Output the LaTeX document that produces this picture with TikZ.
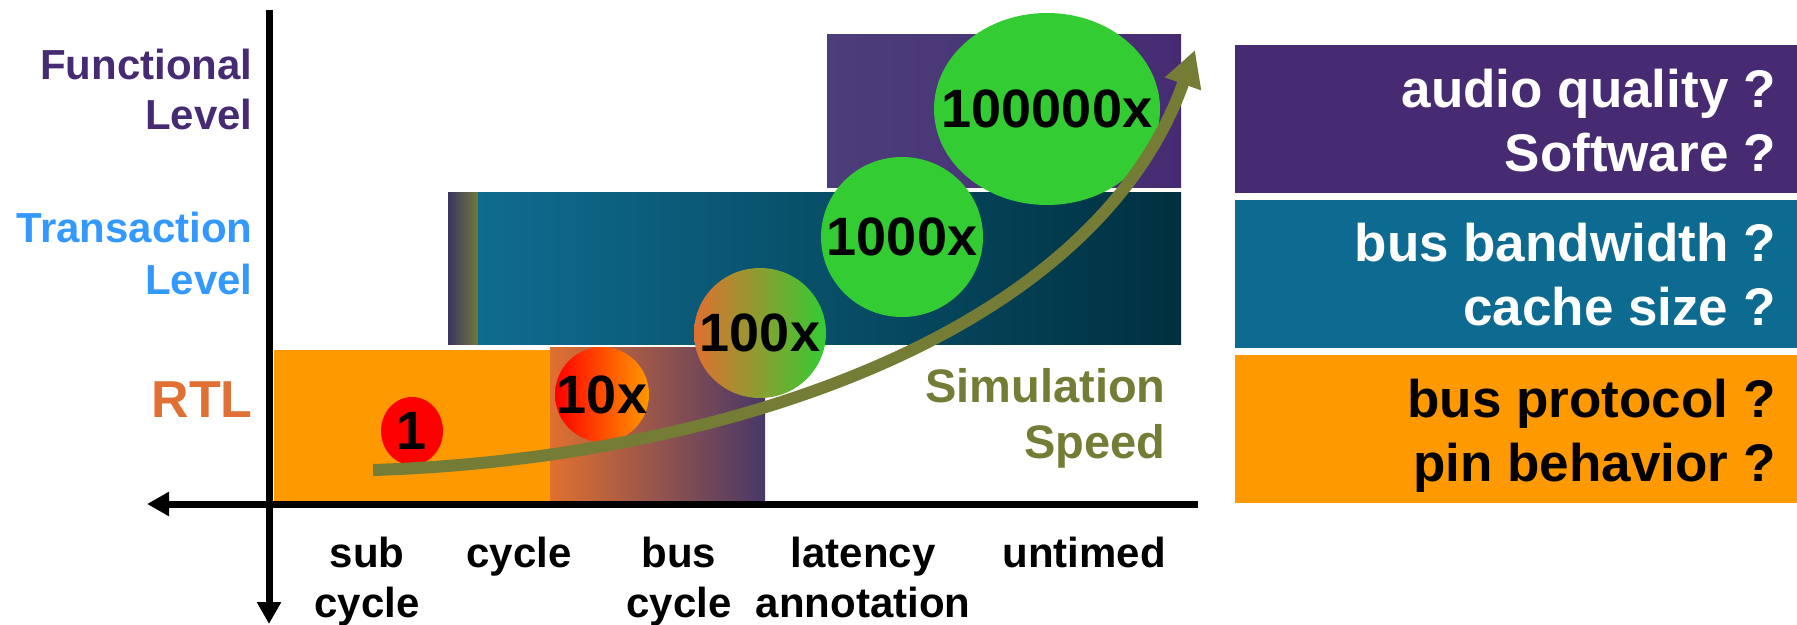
\documentclass[tikz,border=0pt]{standalone}
\usepackage{fontspec}
\setmainfont{Liberation Sans}
\usetikzlibrary{arrows.meta,shapes.geometric}
\definecolor{funcpurple}{RGB}{70,43,115}
\definecolor{funcpurpleL}{RGB}{76,62,122}
\definecolor{tlmblue}{RGB}{51,153,255}
\definecolor{rtlorange}{RGB}{224,112,52}
\definecolor{boxteal}{RGB}{13,107,145}
\definecolor{tealL}{RGB}{15,108,143}
\definecolor{tealR}{RGB}{0,48,64}
\definecolor{stripL}{RGB}{58,52,98}
\definecolor{stripR}{RGB}{112,122,58}
\definecolor{boxorange}{RGB}{255,153,0}
\definecolor{gradL}{RGB}{224,112,48}
\definecolor{gradR}{RGB}{72,56,104}
\definecolor{bubgreen}{RGB}{51,204,51}
\definecolor{speedolive}{RGB}{116,124,53}
\begin{document}
\begin{tikzpicture}[x=0.5pt,y=-0.5pt,
  lvl/.style={anchor=base east, align=right, inner sep=0pt, font=\bfseries\fontsize{21}{25}\selectfont},
  xlab/.style={anchor=base, align=center, inner sep=0pt, font=\bfseries\fontsize{21}{25}\selectfont},
  qtext/.style={anchor=base east, align=right, inner sep=0pt, font=\bfseries\fontsize{26.5}{32}\selectfont},
  bubble/.style={ellipse, inner sep=0pt, outer sep=0pt, draw=none},
  numtxt/.style={inner sep=0pt, font=\bfseries\fontsize{27}{30}\selectfont},
  axisline/.style={line width=3.5pt, -{Triangle[length=11pt,width=11.5pt]}},
  speedarrow/.style={draw=speedolive, line width=6pt, -{Triangle[length=18pt,width=18pt]}}
]
\useasboundingbox (0,0) rectangle (1797,625);

% level regions
\shade[left color=funcpurpleL, right color=funcpurple] (827,35) rectangle (1181,188);
\shade[left color=stripL, right color=stripR] (448,193) rectangle (478,345);
\shade[left color=tealL, right color=tealR] (478,193) rectangle (1181,345);
\fill[boxorange] (274,350) rectangle (550,501);
\shade[left color=gradL, right color=gradR] (550,348) rectangle (765,501);

% right boxes
\fill[funcpurple] (1235,45) rectangle (1797,193);
\fill[boxteal] (1235,200) rectangle (1797,348);
\fill[boxorange] (1235,355) rectangle (1797,503);

% axes
\coordinate (vtop) at (269,10);
\coordinate (vbot) at (269,624);
\coordinate (hright) at (1198,504);
\coordinate (hleft) at (147,504);
\draw[axisline] (vtop) -- (vbot);
\draw[axisline] (hright) -- (hleft);

% bubbles
\node[bubble, fill=red, minimum width=31pt, minimum height=34pt] (e1) at (412,431) {};
\node[bubble, left color=red, right color=boxorange, minimum width=47pt, minimum height=47.5pt] (e2) at (602,394.5) {};
\node[bubble, left color=gradL, right color=bubgreen, minimum width=66pt, minimum height=65pt] (e3) at (760,333) {};
\node[bubble, fill=bubgreen, minimum width=81pt, minimum height=80pt] (e4) at (902,237) {};
\node[bubble, fill=bubgreen, minimum width=113pt, minimum height=96pt] (e5) at (1047,109) {};
\node[numtxt] (t1) at (e1) {1};
\node[numtxt] (t2) at (e2) {10x};
\node[numtxt] (t3) at (e3) {100x};
\node[numtxt] (t4) at (e4) {1000x};
\node[numtxt] (t5) at (e5) {100000x};

% speed arrow
\coordinate (sstart) at (373,470);
\coordinate (send) at (1195,50);
\draw[speedarrow] (sstart) .. controls (700,460) and (1090,345) .. (send);

% labels (base anchor = baseline of last line)
\node[lvl, text=funcpurple] (lf) at (253,130) {Functional\\Level};
\node[lvl, text=tlmblue, font=\bfseries\fontsize{21}{26}\selectfont] (lt) at (253,295) {Transaction\\Level};
\node[lvl, text=rtlorange, font=\bfseries\fontsize{26}{30}\selectfont] (lr) at (253,417) {RTL};

\node[anchor=base east, align=right, inner sep=0pt, text=speedolive, font=\bfseries\fontsize{23.5}{28}\selectfont] (sim) at (1166,458) {Simulation\\Speed};

\node[xlab] (x1) at (367,617) {sub\\cycle};
\node[xlab] (x2) at (519,567) {cycle};
\node[xlab] (x3) at (679,617) {bus\\cycle};
\node[xlab] (x4) at (863,617) {latency\\annotation};
\node[xlab] (x5) at (1084,567) {untimed};

\node[qtext, text=white] (q1) at (1776,172) {audio quality ?\\Software ?};
\node[qtext, text=white] (q2) at (1776,326) {bus bandwidth ?\\cache size ?};
\node[qtext, text=black] (q3) at (1776,481) {bus protocol ?\\pin behavior ?};
\end{tikzpicture}
\end{document}
